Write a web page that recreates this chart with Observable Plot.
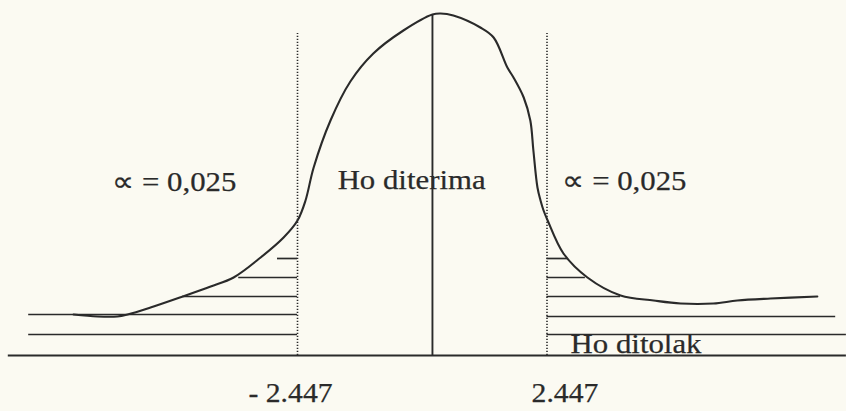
<!DOCTYPE html>
<html>
<head>
<meta charset="utf-8">
<script src="https://cdn.jsdelivr.net/npm/d3@7"></script>
<script src="https://cdn.jsdelivr.net/npm/@observablehq/plot@0.6"></script>
<style>
  html, body { margin: 0; padding: 0; background: #fbfaf2; }
  #chart svg { display: block; }
</style>
</head>
<body>
<div id="chart"></div>
<script>
// Two-tailed t test: acceptance region between the critical values
const critical = 2.447;
const alphaLabel = "\u221D = 0,025";

// Hand-drawn sampling distribution (t units, relative density)
const curveT = [-6.84, -6.37, -5.98, -5.78, -5.33, -4.70, -4.15, -3.70, -3.17, -2.72, -2.447, -2.29, -2.13,
  -1.80, -1.41, -0.96, -0.37, 0.20, 0.36, 0.61, 1.14, 1.40, 1.67, 1.79, 1.99, 2.12, 2.18, 2.26, 2.32,
  2.38, 2.46, 2.77, 3.24, 3.89, 4.54, 5.07, 5.71, 6.18, 6.83, 7.75];
const curveY = [0.41, 0.39, 0.39, 0.41, 0.48, 0.59, 0.69, 0.78, 0.98, 1.18, 1.35, 1.55, 1.88,
  2.35, 2.74, 3.02, 3.25, 3.41, 3.42, 3.40, 3.28, 3.18, 2.88, 2.78, 2.58, 2.35, 2.05, 1.68, 1.55,
  1.45, 1.35, 1.02, 0.78, 0.60, 0.55, 0.52, 0.52, 0.55, 0.57, 0.59];

// Hatching of the rejection regions
const hatchLeftY = [0.21, 0.41, 0.59, 0.78, 0.97];
const hatchLeftFrom = [-7.72, -7.72, -4.70, -3.60, -2.84];
const hatchRightY = [0.97, 0.78, 0.59, 0.39, 0.21];
const hatchRightTo = [2.85, 3.20, 3.89, 8.11, 8.32];

// Axis extent, centre line and critical-value guides
const axisFrom = -8.12, axisTo = 8.32;
const centerT = 0.2, centerTop = 3.41;
const guideTop = 3.22;

// Labels
const tickValues = [-critical, critical];
const tickLabels = ["- 2.447", "2.447"];
const regionLabels = [
  {t: -6.08, y: 1.65, text: alphaLabel},
  {t: -1.66, y: 1.67, text: "Ho diterima"},
  {t: 2.75, y: 1.66, text: alphaLabel},
  {t: 2.91, y: 0.03, text: "Ho ditolak"}
];

const curve = curveT.map((t, i) => ({t, y: curveY[i]}));
const hatchLeft = hatchLeftY.map((y, i) => ({y, x1: hatchLeftFrom[i], x2: -critical}));
const hatchRight = hatchRightY.map((y, i) => ({y, x1: critical, x2: hatchRightTo[i]}));
const ticks = tickValues.map((v, i) => ({v, label: tickLabels[i]}));

const ink = "#2a2a2a";
const font = "'Liberation Serif', 'Times New Roman', serif";

const chart = Plot.plot({
  width: 846,
  height: 411,
  marginTop: 0,
  marginRight: 0,
  marginBottom: 56,
  marginLeft: 0,
  x: {domain: [-8.273, 8.322], axis: null},
  y: {domain: [0, 3.55], axis: null},
  style: {background: "#fbfaf2", fontFamily: font, color: ink},
  marks: [
    Plot.ruleY([0], {x1: axisFrom, x2: axisTo, stroke: ink, strokeWidth: 1.9}),
    Plot.ruleY(hatchLeft, {y: "y", x1: "x1", x2: "x2", stroke: ink, strokeWidth: 1.7}),
    Plot.ruleY(hatchRight, {y: "y", x1: "x1", x2: "x2", stroke: ink, strokeWidth: 1.7}),
    Plot.ruleX(tickValues, {x: d => d, y1: 0, y2: guideTop, stroke: ink, strokeWidth: 1.6, strokeDasharray: "1.2,1.8"}),
    Plot.ruleX([centerT], {x: d => d, y1: 0, y2: centerTop, stroke: ink, strokeWidth: 1.9}),
    Plot.text(regionLabels, {x: "t", y: "y", text: "text", textAnchor: "start", lineAnchor: "bottom",
      fontSize: 28, fill: ink, stroke: ink, strokeWidth: 0.25, className: "stretch"}),
    Plot.line(curve, {x: "t", y: "y", curve: "catmull-rom", stroke: ink, strokeWidth: 2.1}),
    Plot.text(ticks.slice(0, 1), {x: "v", y: -0.46, text: "label", textAnchor: "middle", lineAnchor: "bottom",
      dx: -7, fontSize: 27, fill: ink, stroke: ink, strokeWidth: 0.25, className: "stretch"}),
    Plot.text(ticks.slice(1), {x: "v", y: -0.46, text: "label", textAnchor: "middle", lineAnchor: "bottom",
      dx: 18, fontSize: 27, fill: ink, stroke: ink, strokeWidth: 0.25, className: "stretch"})
  ]
});

document.getElementById("chart").append(chart);

// The serif type is set slightly wide
d3.select(chart).selectAll(".stretch text").each(function () {
  const w = this.getComputedTextLength();
  d3.select(this).attr("textLength", w * 1.1).attr("lengthAdjust", "spacingAndGlyphs");
});
</script>
</body>
</html>
